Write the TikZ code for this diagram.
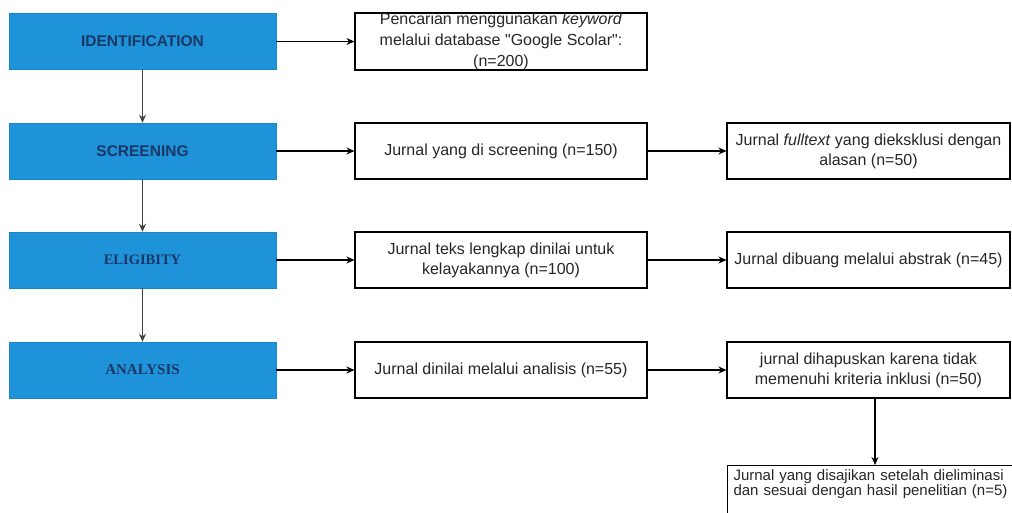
\documentclass[tikz,border=0pt]{standalone}
\usepackage{fontspec}
\setmainfont{Liberation Sans}
\newfontfamily\tnr{Liberation Serif}
\newfontfamily\plainsans{Liberation Sans}
\usetikzlibrary{arrows.meta,calc}
\definecolor{stageblue}{HTML}{1E93D9}
\definecolor{stagetext}{HTML}{1C3766}
\begin{document}
\begin{tikzpicture}[x=1pt,y=-1pt,
  stage/.style={draw=stageblue!90!black,line width=0.5pt,fill=stageblue,minimum width=267pt,minimum height=56pt,inner sep=0pt,text=stagetext,font=\fontsize{15.5}{18}\selectfont\bfseries},
  info/.style={draw=black,line width=1.1pt,fill=white,minimum height=56pt,inner sep=0pt,align=center,font=\fontsize{16}{20}\selectfont,text=black!85},
  mid/.style={info,minimum width=292pt},
  rgt/.style={info,minimum width=283pt},
  arr/.style={-{Stealth[length=8pt,width=7pt]},line width=1.2pt,black},
  varr/.style={-{Stealth[length=8pt,width=7pt]},line width=1pt,black!75}]
\useasboundingbox (0,0) rectangle (1012,512);
\clip (0,0) rectangle (1012,512);
% stages
\node[stage] (id) at (142.5,41.5) {IDENTIFICATION};
\node[stage] (sc) at (142.5,151) {SCREENING};
\node[stage,font=\fontsize{14.5}{18}\selectfont\tnr\bfseries] (el) at (142.5,260) {ELIGIBITY};
\node[stage,font=\fontsize{15}{18}\selectfont\tnr\bfseries] (an) at (142.5,370) {ANALYSIS};
% middle column
\node[mid,minimum height=57pt,font=\fontsize{16}{21}\selectfont] (m1) at (501,41.5) {Pencarian menggunakan \textit{keyword}\\melalui database {\plainsans "Google Scolar":}\\(n=200)};
\node[mid] (m2) at (501,151) {Jurnal yang di screening (n=150)};
\node[mid] (m3) at (501,260) {Jurnal teks lengkap dinilai untuk\\kelayakannya (n=100)};
\node[mid] (m4) at (501,370) {Jurnal dinilai melalui analisis (n=55)};
% right column
\node[rgt] (r2) at (868.5,151) {Jurnal \textit{fulltext} yang dieksklusi dengan\\alasan (n=50)};
\node[rgt] (r3) at (868.5,260) {Jurnal dibuang melalui abstrak (n=45)};
\node[rgt] (r4) at (868.5,370) {jurnal dihapuskan karena tidak\\memenuhi kriteria inklusi (n=50)};
\node[info,minimum width=380pt,minimum height=0pt,anchor=north west,align=left,text width=370pt,inner xsep=6pt,inner ysep=4pt,font=\fontsize{15}{15.5}\selectfont] (r5) at (727,465) {Jurnal yang disajikan setelah dieliminasi\\dan sesuai dengan hasil penelitian (n=5)\rule[-30pt]{0pt}{0pt}};
% vertical connectors
\draw[varr] (id) -- (sc);
\draw[varr] (sc) -- (el);
\draw[varr] (el) -- (an);
% horizontal connectors
\draw[arr] (id) -- (m1);
\draw[arr] (sc) -- (m2);
\draw[arr] (el) -- (m3);
\draw[arr] (an) -- (m4);
\draw[arr] (m2) -- (r2);
\draw[arr] (m3) -- (r3);
\draw[arr] (m4) -- (r4);
\draw[arr] ([xshift=6.5pt]r4.south) -- ([xshift=6.5pt]r4.south |- r5.north);
\end{tikzpicture}
\end{document}
